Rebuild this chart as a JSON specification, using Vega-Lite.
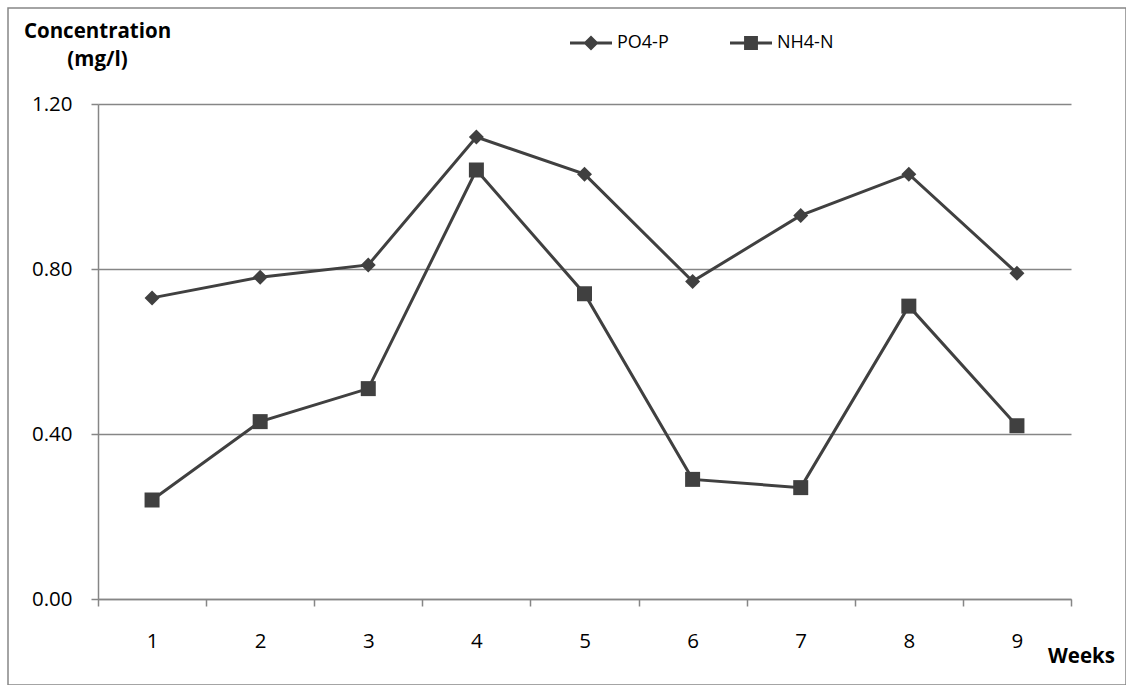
{
  "$schema": "https://vega.github.io/schema/vega-lite/v6.json",
  "width": 1118,
  "height": 677,
  "padding": {"left": 8, "top": 8, "right": 0, "bottom": 0},
  "autosize": {"type": "none"},
  "config": {
    "view": {"stroke": "#868686", "strokeWidth": 1.5},
    "font": "Open Sans",
    "axis": {
      "domainColor": "#868686",
      "domainWidth": 1.5,
      "tickColor": "#868686",
      "tickWidth": 1.5,
      "tickSize": 7,
      "labelColor": "#000000",
      "labelFontSize": 20.5,
      "labelFont": "Open Sans",
      "titleColor": "#000000",
      "titleFont": "Open Sans",
      "titleFontWeight": "bold",
      "titleFontSize": 20.5
    }
  },
  "data": {
    "values": [
      {"week": 1, "series": "PO4-P", "conc": 0.73},
      {"week": 2, "series": "PO4-P", "conc": 0.78},
      {"week": 3, "series": "PO4-P", "conc": 0.81},
      {"week": 4, "series": "PO4-P", "conc": 1.12},
      {"week": 5, "series": "PO4-P", "conc": 1.03},
      {"week": 6, "series": "PO4-P", "conc": 0.77},
      {"week": 7, "series": "PO4-P", "conc": 0.93},
      {"week": 8, "series": "PO4-P", "conc": 1.03},
      {"week": 9, "series": "PO4-P", "conc": 0.79},
      {"week": 1, "series": "NH4-N", "conc": 0.24},
      {"week": 2, "series": "NH4-N", "conc": 0.43},
      {"week": 3, "series": "NH4-N", "conc": 0.51},
      {"week": 4, "series": "NH4-N", "conc": 1.04},
      {"week": 5, "series": "NH4-N", "conc": 0.74},
      {"week": 6, "series": "NH4-N", "conc": 0.29},
      {"week": 7, "series": "NH4-N", "conc": 0.27},
      {"week": 8, "series": "NH4-N", "conc": 0.71},
      {"week": 9, "series": "NH4-N", "conc": 0.42}
    ]
  },
  "encoding": {
    "x": {
      "field": "week",
      "type": "ordinal",
      "bandPosition": 0.5,
      "scale": {"type": "band", "paddingInner": 0, "paddingOuter": 0, "range": [90, 1063]},
      "axis": {
        "orient": "bottom",
        "offset": -86,
        "tickBand": "extent",
        "labelAngle": 0,
        "labelBaseline": "alphabetic",
        "labelPadding": 41,
        "grid": false,
        "title": "Weeks",
        "titleX": 1073,
        "titleY": 63,
        "titleAlign": "center",
        "titleBaseline": "alphabetic"
      }
    },
    "y": {
      "field": "conc",
      "type": "quantitative",
      "scale": {"domain": [0, 1.2], "range": [591, 96], "nice": false, "zero": true},
      "axis": {
        "orient": "left",
        "offset": -90,
        "values": [0, 0.4, 0.8, 1.2],
        "format": ".2f",
        "grid": true,
        "gridColor": "#868686",
        "gridWidth": 1.5,
        "labelPadding": 19,
        "title": ["Concentration", "(mg/l)"],
        "titleAngle": 0,
        "titleX": -1,
        "titleY": 29,
        "titleAlign": "center",
        "titleBaseline": "alphabetic",
        "titleLineHeight": 28
      }
    }
  },
  "resolve": {"scale": {"shape": "independent"}},
  "layer": [
    {
      "mark": {"type": "line", "color": "#404040", "strokeWidth": 3},
      "encoding": {"detail": {"field": "series", "type": "nominal"}}
    },
    {
      "mark": {"type": "point", "filled": true, "color": "#404040", "opacity": 1, "size": 225},
      "encoding": {
        "shape": {
          "field": "series",
          "type": "nominal",
          "scale": {"domain": ["PO4-P", "NH4-N"], "range": ["diamond", "square"]},
          "legend": null
        }
      }
    },
    {
      "transform": [{"filter": "false"}],
      "mark": {"type": "point", "filled": true, "color": "#404040", "opacity": 1, "size": 1764},
      "encoding": {
        "shape": {
          "field": "series",
          "type": "nominal",
          "scale": {
            "domain": ["PO4-P", "NH4-N"],
            "range": [
              "M-1,-0.07H1V0.07H-1Z M0,-0.36L0.36,0L0,0.36L-0.36,0Z",
              "M-1,-0.07H1V0.07H-1Z M-0.33,-0.33H0.33V0.33H-0.33Z"
            ]
          },
          "legend": {
            "title": null,
            "orient": "none",
            "legendX": 562,
            "legendY": 14,
            "direction": "horizontal",
            "symbolSize": 1764,
            "symbolFillColor": "#404040",
            "symbolStrokeWidth": 0,
            "symbolOpacity": 1,
            "labelFontSize": 18,
            "labelFont": "Open Sans",
            "labelColor": "#000000",
            "labelOffset": 5,
            "columnPadding": 61,
            "padding": 0
          }
        }
      }
    }
  ]
}
